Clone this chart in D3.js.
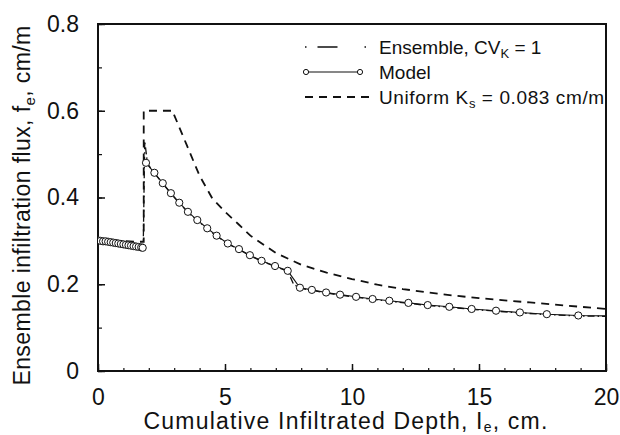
<!DOCTYPE html>
<html><head><meta charset="utf-8">
<script src="https://cdn.jsdelivr.net/npm/d3@7"></script>
<style>body{margin:0;background:#fff}text{font-family:"Liberation Sans",Arial,sans-serif;fill:#111}</style>
</head><body><svg id="c" width="620" height="435"></svg>
<script>
// ---- data ----
const xTicks = [0, 5, 10, 15, 20];
const yTicks = [0, 0.2, 0.4, 0.6, 0.8];
const yTickLabels = ["0", "0.2", "0.4", "0.6", "0.8"];

// Model (circles + solid line); null = break in line
const modelX = [0,0.1,0.2,0.3,0.4,0.5,0.6,0.7,0.8,0.9,1.0,1.1,1.2,1.3,1.4,1.5,1.6,1.7,1.76,null,
  1.89,2.22,2.55,2.87,3.20,3.54,3.91,4.30,4.67,5.11,5.55,5.98,6.44,6.97,7.47,7.95,8.42,8.98,9.53,10.16,10.81,11.47,12.22,12.98,13.83,14.71,15.67,16.61,17.67,18.91];
const modelY = [0.301,0.300,0.299,0.299,0.298,0.297,0.296,0.295,0.294,0.293,0.292,0.291,0.290,0.289,0.288,0.287,0.286,0.285,0.284,null,
  0.480,0.457,0.433,0.410,0.388,0.367,0.348,0.329,0.312,0.294,0.281,0.267,0.254,0.242,0.231,0.192,0.187,0.181,0.176,0.171,0.166,0.162,0.157,0.152,0.148,0.143,0.139,0.135,0.131,0.128];
const modelLineEndX = 20, modelLineEndY = 0.127;

// Ensemble, CV_K = 1 (dash-dot line)
const ensembleX = [0,0.6,1.2,1.78,1.84,1.95,2.22,2.55,2.87,3.20,3.54,3.91,4.30,4.67,5.11,5.55,5.98,6.44,6.97,7.47,7.7,7.95,8.42,8.98,9.53,10.16,10.81,11.47,12.22,12.98,13.83,14.71,15.67,16.61,17.67,18.91,20];
const ensembleY = [0.302,0.297,0.291,0.283,0.530,0.478,0.456,0.432,0.409,0.387,0.366,0.347,0.328,0.311,0.293,0.280,0.266,0.253,0.241,0.230,0.200,0.191,0.186,0.180,0.175,0.170,0.165,0.161,0.156,0.151,0.147,0.142,0.138,0.134,0.130,0.127,0.126];

// Uniform K_s = 0.083 cm/m (dashed)
const uniformX = [0,0.8,1.55,1.8,1.8,2.95,3.0,3.5,4.0,4.5,5.0,5.5,6.0,7.0,8.0,9.0,10.0,11.0,12.0,13.0,14.0,15.0,16.0,17.0,18.0,19.0,20.0];
const uniformY = [0.302,0.300,0.298,0.298,0.600,0.600,0.590,0.520,0.450,0.398,0.367,0.340,0.312,0.272,0.245,0.227,0.212,0.199,0.189,0.181,0.174,0.168,0.163,0.158,0.153,0.148,0.143];

// ---- layout ----
const svg = d3.select("#c");
const L = 98, R = 606, T = 24, B = 371;
const x = d3.scaleLinear().domain([0, 20]).range([L, R]);
const y = d3.scaleLinear().domain([0, 0.8]).range([B, T]);

svg.append("clipPath").attr("id","clip").append("rect").attr("x",L).attr("y",T).attr("width",R-L).attr("height",B-T);

// frame
svg.append("rect").attr("x",L).attr("y",T).attr("width",R-L).attr("height",B-T)
  .attr("fill","none").attr("stroke","#111").attr("stroke-width",2);

// ticks (inside)
const gx = svg.append("g").attr("transform",`translate(0,${B})`)
  .call(d3.axisBottom(x).tickValues(d3.range(0,21,1)).tickSize(-3).tickFormat(""));
gx.select(".domain").remove();
gx.selectAll(".tick line").attr("stroke","#111").attr("stroke-width",1.2);
const gx2 = svg.append("g").attr("transform",`translate(0,${B})`)
  .call(d3.axisBottom(x).tickValues(xTicks).tickSize(-7).tickPadding(18).tickFormat(d3.format("d")));
gx2.select(".domain").remove();
gx2.selectAll(".tick line").attr("stroke","#111").attr("stroke-width",1.5);
gx2.selectAll(".tick text").attr("font-size",23).attr("fill","#111");

const gy = svg.append("g").attr("transform",`translate(${L},0)`)
  .call(d3.axisLeft(y).tickValues(d3.range(0,0.81,0.1)).tickSize(-4).tickFormat(""));
gy.select(".domain").remove();
gy.selectAll(".tick line").attr("stroke","#111").attr("stroke-width",1.2);
const gy2 = svg.append("g").attr("transform",`translate(${L},0)`)
  .call(d3.axisLeft(y).tickValues(yTicks).tickSize(-7).tickPadding(19).tickFormat((d,i)=>yTickLabels[i]));
gy2.select(".domain").remove();
gy2.selectAll(".tick line").attr("stroke","#111").attr("stroke-width",1.5);
gy2.selectAll(".tick text").attr("font-size",23).attr("fill","#111");

const plot = svg.append("g").attr("clip-path","url(#clip)");

// uniform dashed
const uniform = uniformX.map((d,i)=>[d,uniformY[i]]);
plot.append("path").datum(uniform)
  .attr("d", d3.line().x(d=>x(d[0])).y(d=>y(d[1])))
  .attr("fill","none").attr("stroke","#111").attr("stroke-width",1.8).attr("stroke-dasharray","8,6");

// ensemble dash-dot
const ens = ensembleX.map((d,i)=>[d,ensembleY[i]]);
plot.append("path").datum(ens)
  .attr("d", d3.line().x(d=>x(d[0])).y(d=>y(d[1])))
  .attr("fill","none").attr("stroke","#111").attr("stroke-width",1.3).attr("stroke-dasharray","7,3,1.5,3");

// model line
const model = modelX.map((d,i)=>[d,modelY[i]]);
const modelLine = model.concat([[modelLineEndX, modelLineEndY]]);
plot.append("path").datum(modelLine)
  .attr("d", d3.line().defined(d=>d[0]!==null).x(d=>x(d[0])).y(d=>y(d[1])))
  .attr("fill","none").attr("stroke","#111").attr("stroke-width",1.1);

// model circles
plot.selectAll("circle.m").data(model.filter(d=>d[0]!==null)).join("circle")
  .attr("cx",d=>x(d[0])).attr("cy",d=>y(d[1])).attr("r",3.6)
  .attr("fill","#fff").attr("stroke","#111").attr("stroke-width",1);

// legend
const lg = svg.append("g");
const rows = [47, 72, 97];
lg.append("line").attr("x1",305).attr("x2",366).attr("y1",rows[0]).attr("y2",rows[0])
  .attr("stroke","#111").attr("stroke-width",1.3).attr("stroke-dasharray","1.5,11,20,27,1.5");
lg.append("line").attr("x1",306).attr("x2",360).attr("y1",rows[1]).attr("y2",rows[1]).attr("stroke","#111").attr("stroke-width",1.1);
[306,360].forEach(cx=>lg.append("circle").attr("cx",cx).attr("cy",rows[1]).attr("r",2.6).attr("fill","#fff").attr("stroke","#111"));
lg.append("line").attr("x1",305).attr("x2",369).attr("y1",rows[2]).attr("y2",rows[2])
  .attr("stroke","#111").attr("stroke-width",1.8).attr("stroke-dasharray","8,6");

const fs = 19;
const t1 = lg.append("text").attr("x",379).attr("y",rows[0]+7).attr("font-size",fs);
t1.append("tspan").text("Ensemble, CV");
t1.append("tspan").attr("font-size",13).attr("dy",4).text("K");
t1.append("tspan").attr("dy",-4).text(" = 1");
lg.append("text").attr("x",379).attr("y",rows[1]+7).attr("font-size",fs).text("Model");
const t3 = lg.append("text").attr("x",379).attr("y",rows[2]+7).attr("font-size",fs).attr("letter-spacing",0.6);
t3.append("tspan").text("Uniform K");
t3.append("tspan").attr("font-size",13).attr("dy",4).text("s");
t3.append("tspan").attr("dy",-4).text(" = 0.083 cm/m");

// axis titles
const xt = svg.append("text").attr("x",(L+R)/2-6).attr("y",429).attr("text-anchor","middle")
  .attr("font-size",23).attr("letter-spacing",1.2);
xt.append("tspan").text("Cumulative Infiltrated Depth, I");
xt.append("tspan").attr("font-size",14).attr("dy",3).text("e");
xt.append("tspan").attr("dy",-3).text(", cm.");

const yt = svg.append("text").attr("transform",`translate(30,${(T+B)/2+8}) rotate(-90)`).attr("text-anchor","middle")
  .attr("font-size",23).attr("letter-spacing",0.4);
yt.append("tspan").text("Ensemble infiltration flux, f");
yt.append("tspan").attr("font-size",15).attr("dy",5).text("e");
yt.append("tspan").attr("dy",-5).text(", cm/m");
</script></body></html>
